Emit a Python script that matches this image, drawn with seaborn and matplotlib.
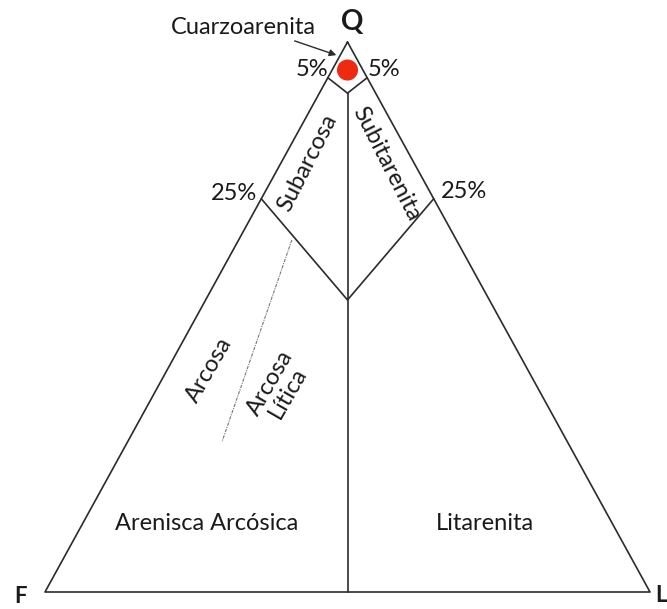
import matplotlib
matplotlib.use("Agg")
import matplotlib.pyplot as plt
import seaborn as sns
import numpy as np
import pandas as pd

sns.set_theme(style="white")
plt.rcParams['font.family'] = ['Lato', 'DejaVu Sans']

# ---- data: compositions (Q, F, L) as fractions ----
outer_Q = [1.0, 0.0, 0.0, 1.0]
outer_F = [0.0, 1.0, 0.0, 0.0]
outer_L = [0.0, 0.0, 1.0, 0.0]

q5_Q = [0.935, 0.907, 0.935]
q5_F = [0.065, 0.0465, 0.0]
q5_L = [0.0, 0.0465, 0.065]

q25_Q = [0.715, 0.531, 0.715]
q25_F = [0.285, 0.2345, 0.0]
q25_L = [0.0, 0.2345, 0.285]

mid_Q = [0.907, 0.0]
mid_F = [0.0465, 0.5]
mid_L = [0.0465, 0.5]

dot_Q = [0.64, 0.273]
dot_F = [0.272, 0.571]
dot_L = [0.088, 0.156]

sample_Q = [0.949]
sample_F = [0.0255]
sample_L = [0.0255]

# ---- layout: triangle corners in pixel space ----
CQ = (347.5, 42.0)
CF = (45.0, 592.0)
CL = (650.0, 592.0)

def tern(q, f, l):
    q, f, l = np.asarray(q, float), np.asarray(f, float), np.asarray(l, float)
    s = q + f + l
    x = (q * CQ[0] + f * CF[0] + l * CL[0]) / s
    y = (q * CQ[1] + f * CF[1] + l * CL[1]) / s
    return x, y

fig = plt.figure(figsize=(6.67, 6.09), dpi=100)
ax = fig.add_axes([0, 0, 1, 1])

lc = '#2b2b2b'
for Q, F, L in [(outer_Q, outer_F, outer_L),
                (q5_Q, q5_F, q5_L),
                (q25_Q, q25_F, q25_L),
                (mid_Q, mid_F, mid_L)]:
    x, y = tern(Q, F, L)
    sns.lineplot(x=x, y=y, sort=False, ax=ax, color=lc,
                 linewidth=1.2, estimator=None)

x, y = tern(dot_Q, dot_F, dot_L)
sns.lineplot(x=x, y=y, sort=False, ax=ax, color='#777777', linewidth=0.8,
             linestyle=(0, (3, 1, 1, 1)), estimator=None)

x, y = tern(sample_Q, sample_F, sample_L)
sns.scatterplot(x=x, y=y, ax=ax, color='#ee2a10', s=230, edgecolor='none', zorder=5)

ax.set_xlim(0, 667)
ax.set_ylim(609, 0)
ax.axis('off')

fs = 17
tc = '#1a1a1a'
ax.text(352, 22, 'Q', fontsize=20, fontweight='bold', ha='center', va='center', color=tc)
ax.text(14, 586, 'F', fontsize=16, fontweight='bold', ha='left', va='top', color=tc)
ax.text(655, 585, 'L', fontsize=16, fontweight='bold', ha='left', va='top', color=tc)

ax.text(243, 28, 'Cuarzoarenita', fontsize=fs, ha='center', va='center', color=tc)
ax.annotate('', xy=(339, 56), xytext=(292, 40),
            arrowprops=dict(arrowstyle='-|>', color=lc, lw=1.0, mutation_scale=10))
ax.text(312, 70, '5%', fontsize=fs, ha='center', va='center', color=tc)
ax.text(384, 70, '5%', fontsize=fs, ha='center', va='center', color=tc)
ax.text(234, 193, '25%', fontsize=fs, ha='center', va='center', color=tc)
ax.text(464, 192, '25%', fontsize=fs, ha='center', va='center', color=tc)

ax.text(307, 163, 'Subarcosa', fontsize=fs, ha='center', va='center', rotation=63,
        rotation_mode='anchor', color=tc)
ax.text(386, 164, 'Subitarenita', fontsize=fs, ha='center', va='center', rotation=-63,
        rotation_mode='anchor', color=tc)
ax.text(209, 370, 'Arcosa', fontsize=fs, ha='center', va='center', rotation=60,
        rotation_mode='anchor', color=tc)
ax.text(279, 388, 'Arcosa\nLítica', fontsize=fs, ha='center', va='center', rotation=60,
        rotation_mode='anchor', color=tc, multialignment='center', linespacing=1.0)

ax.text(207, 524, 'Arenisca Arcósica', fontsize=fs, ha='center', va='center', color=tc)
ax.text(485, 524, 'Litarenita', fontsize=fs, ha='center', va='center', color=tc)

fig.savefig('out.png', dpi=100)
